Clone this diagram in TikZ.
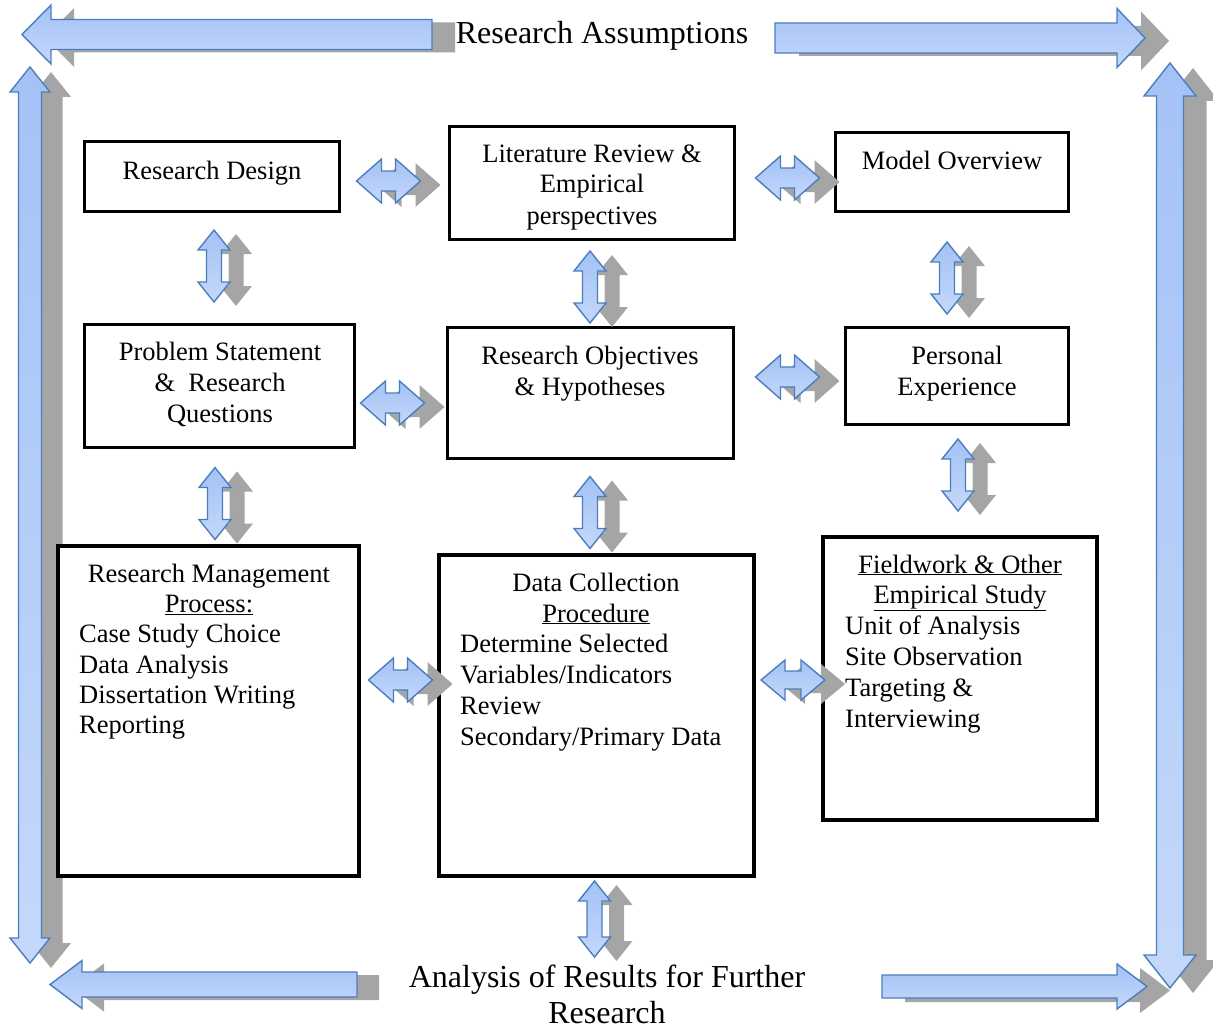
\documentclass[tikz,border=0pt]{standalone}
\usepackage{fontspec}
\setmainfont{Liberation Serif}
\def\shx{22}\def\shy{4}
% #1 name, #2 x, #3 y, #4 rotation, #5 half length, #6 half head width, #7 half shaft width, #8 head length
\newcommand\dblarrow[8]{%
  \begin{scope}[shift={({#2+\shx},{#3+\shy})}, rotate=#4]
    \path[shadowarrow] (-#5,0) -- ({-#5+#8},-#6) -- ({-#5+#8},-#7) -- ({#5-#8},-#7) -- ({#5-#8},-#6) -- (#5,0) -- ({#5-#8},#6) -- ({#5-#8},#7) -- ({-#5+#8},#7) -- ({-#5+#8},#6) -- cycle;
  \end{scope}
  \begin{scope}[shift={(#2,#3)}, rotate=#4]
    \path[bluearrow] (-#5,0) -- ({-#5+#8},-#6) -- ({-#5+#8},-#7) -- ({#5-#8},-#7) -- ({#5-#8},-#6) -- (#5,0) -- ({#5-#8},#6) -- ({#5-#8},#7) -- ({-#5+#8},#7) -- ({-#5+#8},#6) -- cycle;
    \coordinate (#1) at (0,0);
  \end{scope}}
\newcommand\sglarrow[8]{%
  \begin{scope}[shift={({#2+\shx},{#3+\shy})}, rotate=#4]
    \path[shadowarrow] (-#5,-#7) -- ({#5-#8},-#7) -- ({#5-#8},-#6) -- (#5,0) -- ({#5-#8},#6) -- ({#5-#8},#7) -- (-#5,#7) -- cycle;
  \end{scope}
  \begin{scope}[shift={(#2,#3)}, rotate=#4]
    \path[bluearrow] (-#5,-#7) -- ({#5-#8},-#7) -- ({#5-#8},-#6) -- (#5,0) -- ({#5-#8},#6) -- ({#5-#8},#7) -- (-#5,#7) -- cycle;
    \coordinate (#1) at (0,0);
  \end{scope}}
\begin{document}
\begin{tikzpicture}[x=1pt,y=-1pt,
  box/.style={draw=black, line width=3.5pt, fill=white, inner sep=0pt},
  bigbox/.style={box, line width=4.5pt},
  txt/.style={font=\fontsize{26.5}{30.5}\selectfont, inner sep=0pt, anchor=base},
  ltxt/.style={txt, anchor=base west},
  ttl/.style={font=\fontsize{32}{36}\selectfont, inner sep=0pt, anchor=base},
  bluearrow/.style={draw={rgb,255:red,74;green,126;blue,187}, line width=1.4pt, line join=miter,
    top color={rgb,255:red,164;green,194;blue,246}, bottom color={rgb,255:red,196;green,216;blue,250}},
  shadowarrow/.style={fill={rgb,255:red,165;green,165;blue,165}, draw=none},
]
\path[use as bounding box] (0,0) rectangle (1213,1030);

% frame arrows
\def\shx{23}\def\shy{3}
\sglarrow{tl}{227}{34.5}{180}{205}{29.5}{15}{29}
\def\shx{24}\def\shy{3}
\sglarrow{tr}{960}{38}{0}{185}{29.5}{15}{28}
\def\shx{22}\def\shy{3}
\sglarrow{bl}{203.5}{984.5}{180}{153.5}{24}{12.5}{32}
\def\shx{23}\def\shy{4}
\sglarrow{br}{1014.5}{986.5}{0}{132.5}{22.5}{11.5}{30}
\def\shx{21}\def\shy{5}
\dblarrow{lv}{30}{515}{90}{448}{20}{11.5}{25}
\def\shx{23}\def\shy{5}
\dblarrow{rv}{1170}{525.5}{90}{462.5}{26}{13.5}{33}

% boxes
\node[box, minimum width=255, minimum height=70] (rd) at (212,176.5) {};
\node[box, minimum width=285, minimum height=113] (lr) at (592,183) {};
\node[box, minimum width=233, minimum height=79] (mo) at (952,172) {};
\node[box, minimum width=270, minimum height=123] (ps) at (219.5,386) {};
\node[box, minimum width=286, minimum height=131] (ro) at (590.5,393) {};
\node[box, minimum width=223, minimum height=97] (pe) at (957,376) {};
\node[bigbox, minimum width=301, minimum height=330] (rm) at (208.5,711) {};
\node[bigbox, minimum width=315, minimum height=321] (dc) at (596.5,715.5) {};
\node[bigbox, minimum width=274, minimum height=283] (fw) at (960,678.5) {};

% connectors between boxes
\def\shx{20}\def\shy{4}
\dblarrow{rdlr}{388.5}{181}{0}{32}{22}{10}{25}
\dblarrow{lrmo}{787.5}{178}{0}{32}{22}{10}{25}
\dblarrow{psro}{392.5}{403}{0}{32}{22}{10}{25}
\dblarrow{rope}{787.5}{377}{0}{32}{22}{10}{25}
\dblarrow{rmdc}{400.5}{680}{0}{32}{22}{10}{25}
\dblarrow{dcfw}{793}{680}{0}{32}{20}{9}{24}
\def\shx{22}\def\shy{4}
\dblarrow{rdps}{214}{266}{90}{36}{16}{7.5}{20}
\dblarrow{lrro}{590}{287}{90}{36}{16}{7.5}{20}
\dblarrow{mope}{947}{278}{90}{36}{16}{7.5}{20}
\dblarrow{psrm}{215}{503.5}{90}{36}{16}{7.5}{20}
\dblarrow{rodc}{590}{512.5}{90}{36}{16}{7.5}{20}
\dblarrow{pefw}{958}{475}{90}{36}{16}{7.5}{20}
\dblarrow{dcan}{594.5}{919}{90}{38}{16}{7.5}{20}

% texts
\node[ttl] (title) at (602,44) {Research Assumptions};
\node[ttl] (an1) at (607,987) {Analysis of Results for Further};
\node[ttl] (an2) at (607,1023) {Research};

\node[txt] (rdt) at (212,179) {Research Design};
\node[txt] (lr1) at (592,163) {Literature Review \&};
\node[txt] (lr2) at (592,193) {Empirical};
\node[txt] (lr3) at (592,224) {perspectives};
\node[txt] (mot) at (952,170) {Model Overview};
\node[txt] (ps1) at (220,360) {Problem Statement};
\node[txt] (ps2) at (220,391) {\&~~Research};
\node[txt] (ps3) at (220,422) {Questions};
\node[txt] (ro1) at (590,364) {Research Objectives};
\node[txt] (ro2) at (590,395) {\& Hypotheses};
\node[txt] (pe1) at (957,364) {Personal};
\node[txt] (pe2) at (957,395) {Experience};

\node[txt] (rm1) at (209,582) {Research Management};
\node[txt] (rm2) at (209,612) {\underline{Process:}};
\node[ltxt] (rm3) at (79,642) {Case Study Choice};
\node[ltxt] (rm4) at (79,673) {Data Analysis};
\node[ltxt] (rm5) at (79,703) {Dissertation Writing};
\node[ltxt] (rm6) at (79,733) {Reporting};

\node[txt] (dc1) at (596,591) {Data Collection};
\node[txt] (dc2) at (596,622) {\underline{Procedure}};
\node[ltxt] (dc3) at (460,652) {Determine Selected};
\node[ltxt] (dc4) at (460,683) {Variables/Indicators};
\node[ltxt] (dc5) at (460,714) {Review};
\node[ltxt] (dc6) at (460,745) {Secondary/Primary Data};

\node[txt] (fw1) at (960,573) {\underline{Fieldwork \& Other}};
\node[txt] (fw2) at (960,603) {\underline{Empirical Study}};
\node[ltxt] (fw3) at (845,634) {Unit of Analysis};
\node[ltxt] (fw4) at (845,665) {Site Observation};
\node[ltxt] (fw5) at (845,696) {Targeting \&};
\node[ltxt] (fw6) at (845,727) {Interviewing};
\end{tikzpicture}
\end{document}
